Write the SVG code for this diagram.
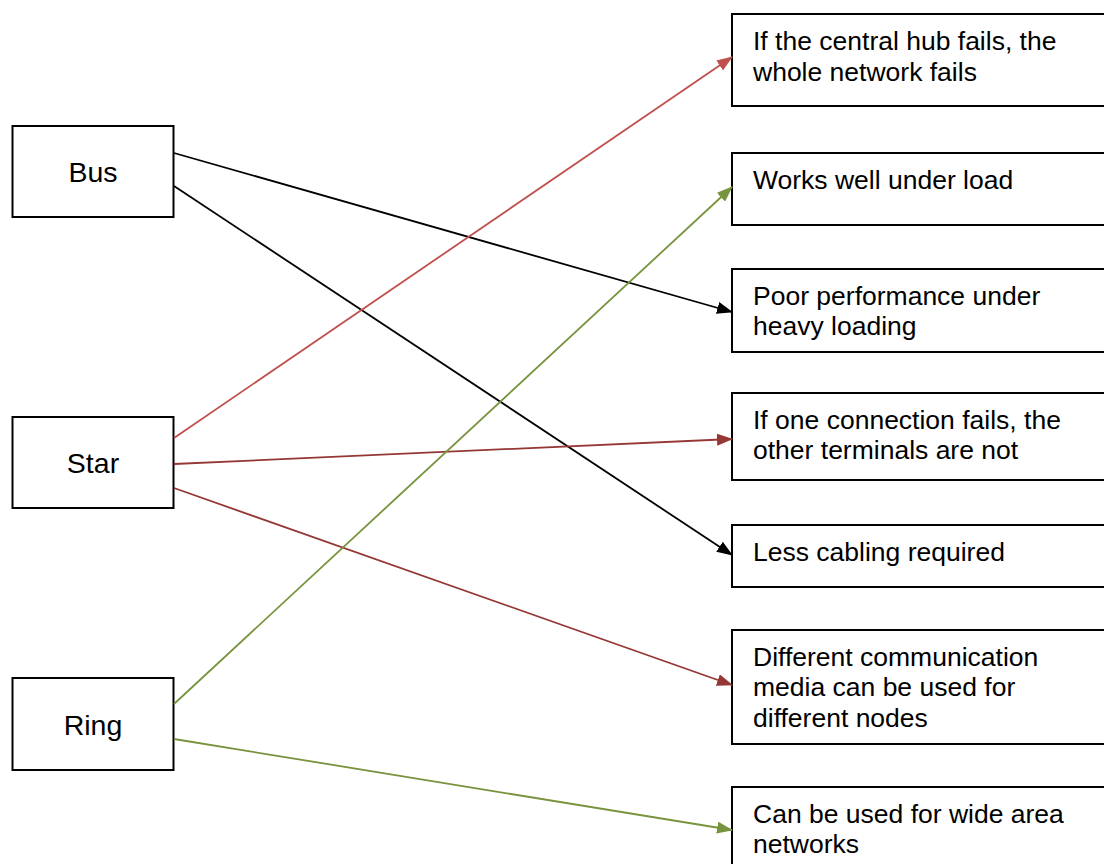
<svg xmlns="http://www.w3.org/2000/svg" width="1104" height="864" viewBox="0 0 1104 864">
<style>
.box{fill:#fff;stroke:#000;stroke-width:2}
.lbl{font-family:"Liberation Sans",Arial,sans-serif;font-size:28.5px;fill:#000;text-anchor:middle}
.txt{font-family:"Liberation Sans",Arial,sans-serif;font-size:26.5px;fill:#000}
.c{fill:none;stroke-width:1.8}
.k{stroke:#000}
.r{stroke:#C0504D}
.d{stroke:#953735}
.g{stroke:#77933C}
</style>
<defs>
<marker id="ak" viewBox="0 0 16 12" refX="15" refY="6" markerWidth="16" markerHeight="12" markerUnits="userSpaceOnUse" orient="auto"><path d="M0,0 L16,6 L0,12 z" fill="#000"/></marker>
<marker id="ar" viewBox="0 0 16 12" refX="15" refY="6" markerWidth="16" markerHeight="12" markerUnits="userSpaceOnUse" orient="auto"><path d="M0,0 L16,6 L0,12 z" fill="#C0504D"/></marker>
<marker id="ad" viewBox="0 0 16 12" refX="15" refY="6" markerWidth="16" markerHeight="12" markerUnits="userSpaceOnUse" orient="auto"><path d="M0,0 L16,6 L0,12 z" fill="#953735"/></marker>
<marker id="ag" viewBox="0 0 16 12" refX="15" refY="6" markerWidth="16" markerHeight="12" markerUnits="userSpaceOnUse" orient="auto"><path d="M0,0 L16,6 L0,12 z" fill="#77933C"/></marker>
</defs>
<rect width="1104" height="864" fill="#fff"/>
<g id="bus"><rect class="box" x="12.5" y="126" width="161" height="91"/><text class="lbl" x="93" y="182">Bus</text></g>
<g id="star"><rect class="box" x="12.5" y="417" width="161" height="91"/><text class="lbl" x="93" y="473">Star</text></g>
<g id="ring"><rect class="box" x="12.5" y="678" width="161" height="92"/><text class="lbl" x="93" y="735">Ring</text></g>
<g id="hub"><rect class="box" x="732" y="14" width="400" height="92"/><text class="txt" x="753" y="50">If the central hub fails, the</text><text class="txt" x="753" y="81">whole network fails</text></g>
<g id="works"><rect class="box" x="732" y="153" width="400" height="72"/><text class="txt" x="753" y="189">Works well under load</text></g>
<g id="poor"><rect class="box" x="732" y="269" width="400" height="83"/><text class="txt" x="753" y="305">Poor performance under</text><text class="txt" x="753" y="335">heavy loading</text></g>
<g id="onefail"><rect class="box" x="732" y="393" width="400" height="87"/><text class="txt" x="753" y="429">If one connection fails, the</text><text class="txt" x="753" y="459">other terminals are not</text></g>
<g id="less"><rect class="box" x="732" y="525" width="400" height="62"/><text class="txt" x="753" y="561">Less cabling required</text></g>
<g id="media"><rect class="box" x="732" y="630" width="400" height="114"/><text class="txt" x="753" y="666">Different communication</text><text class="txt" x="753" y="696">media can be used for</text><text class="txt" x="753" y="727">different nodes</text></g>
<g id="wan"><rect class="box" x="732" y="787" width="400" height="100"/><text class="txt" x="753" y="823">Can be used for wide area</text><text class="txt" x="753" y="853">networks</text></g>
<g id="connectors">
<line class="c k" x1="174" y1="153" x2="732" y2="312" marker-end="url(#ak)"/>
<line class="c k" x1="174" y1="186" x2="732" y2="555" marker-end="url(#ak)"/>
<line class="c r" x1="174" y1="438" x2="732" y2="57" marker-end="url(#ar)"/>
<line class="c d" x1="174" y1="464" x2="732" y2="439" marker-end="url(#ad)"/>
<line class="c d" x1="174" y1="488" x2="732" y2="685" marker-end="url(#ad)"/>
<line class="c g" x1="174" y1="704" x2="732" y2="187" marker-end="url(#ag)"/>
<line class="c g" x1="174" y1="739" x2="732" y2="830" marker-end="url(#ag)"/>
</g>
</svg>
